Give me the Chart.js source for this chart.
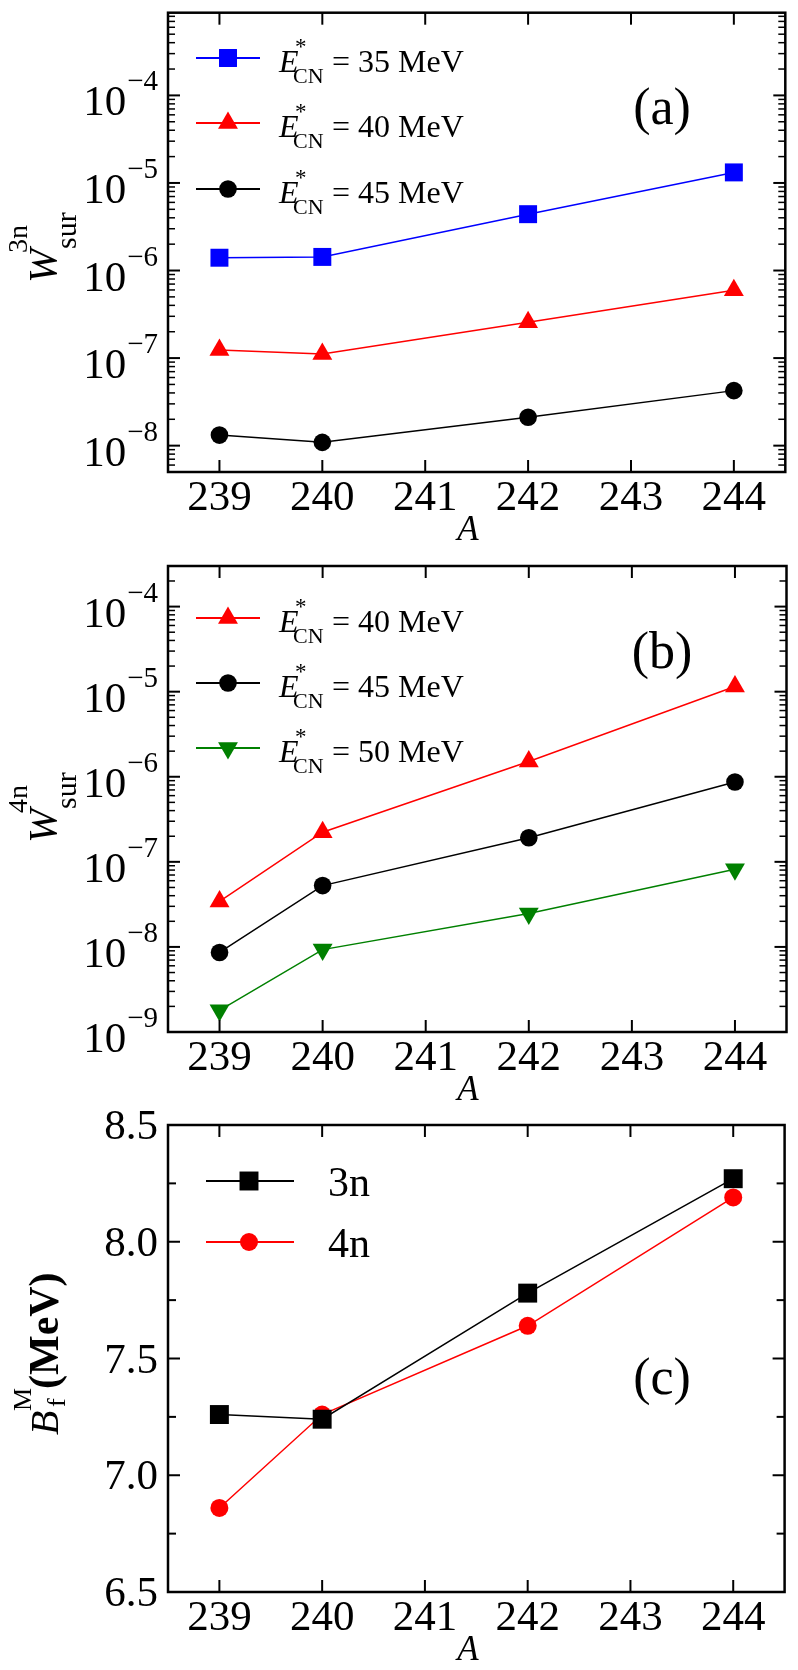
<!DOCTYPE html>
<html>
<head>
<meta charset="utf-8">
<script src="https://cdn.jsdelivr.net/npm/chart.js@4.4.1/dist/chart.umd.min.js"></script>
<style>
html,body{margin:0;padding:0;background:#fff;}
#wrap{position:relative;width:798px;height:1670px;overflow:hidden;background:#fff;}
canvas{position:absolute;left:0;}
</style>
</head>
<body>
<div id="wrap">
  <canvas id="cA" style="top:0px" width="798" height="548"></canvas>
  <canvas id="cB" style="top:548px" width="798" height="562"></canvas>
  <canvas id="cC" style="top:1110px" width="798" height="560"></canvas>
</div>
<script>
// ---------------- data ----------------
const X_TICKS = [239, 240, 241, 242, 243, 244];
const A_VALUES = [239, 240, 242, 244];

// panel (a): W_sur^3n
const W3N_35 = [1.40e-6, 1.43e-6, 4.40e-6, 1.32e-5];
const W3N_40 = [1.24e-7, 1.11e-7, 2.56e-7, 5.97e-7];
const W3N_45 = [1.32e-8, 1.09e-8, 2.11e-8, 4.25e-8];

// panel (b): W_sur^4n
const W4N_40 = [3.42e-8, 2.23e-7, 1.51e-6, 1.15e-5];
const W4N_45 = [8.6e-9, 5.26e-8, 1.92e-7, 8.69e-7];
const W4N_50 = [1.8e-9, 9.3e-9, 2.47e-8, 8.2e-8];

// panel (c): B_f^M (MeV)
const BF_3N = [7.26, 7.24, 7.78, 8.27];
const BF_4N = [6.86, 7.26, 7.64, 8.19];

// tick labels
const LOG_TICKS_A = [1e-8, 1e-7, 1e-6, 1e-5, 1e-4];
const LOG_EXP_A = ['\u22128', '\u22127', '\u22126', '\u22125', '\u22124'];
const LOG_TICKS_B = [1e-9, 1e-8, 1e-7, 1e-6, 1e-5, 1e-4];
const LOG_EXP_B = ['\u22129', '\u22128', '\u22127', '\u22126', '\u22125', '\u22124'];
const LIN_TICKS_C = [6.5, 7.0, 7.5, 8.0, 8.5];
const LIN_LABELS_C = ['6.5', '7.0', '7.5', '8.0', '8.5'];

// legend labels
const LEG_A = ['35', '40', '45'];
const LEG_B = ['40', '45', '50'];
const LEG_C = ['3n', '4n'];

// ---------------- helpers ----------------
const SERIF = '"Liberation Serif", "Times New Roman", serif';
const BLUE = '#0000ff', RED = '#ff0000', BLACK = '#000000', GREEN = '#008000';

function ds(label, values, color, style, radius, rotation) {
  return {
    label: label,
    data: A_VALUES.map((a, i) => ({x: a, y: values[i]})),
    borderColor: color,
    backgroundColor: color,
    borderWidth: 1.5,
    pointStyle: style,
    pointRadius: radius,
    pointHoverRadius: radius,
    pointRotation: rotation || 0,
    pointBorderWidth: 0,
    pointBackgroundColor: color,
    tension: 0,
    fill: false,
    clip: false
  };
}

function marker(ctx, style, r, rot, x, y, color) {
  ctx.save();
  ctx.fillStyle = color;
  ctx.beginPath();
  if (style === 'circle') {
    ctx.arc(x, y, r, 0, Math.PI * 2);
  } else if (style === 'rect') {
    const s = Math.SQRT1_2 * r;
    ctx.rect(x - s, y - s, 2 * s, 2 * s);
  } else {
    const base = (rot || 0) * Math.PI / 180;
    for (let i = 0; i < 3; i++) {
      const ang = base + i * 2 * Math.PI / 3;
      const px = x + Math.sin(ang) * r, py = y - Math.cos(ang) * r;
      if (i === 0) ctx.moveTo(px, py); else ctx.lineTo(px, py);
    }
    ctx.closePath();
  }
  ctx.fill();
  ctx.restore();
}

function seg(ctx, x0, y0, x1, y1) {
  ctx.beginPath(); ctx.moveTo(x0, y0); ctx.lineTo(x1, y1); ctx.stroke();
}

function rotText(ctx, x, y, parts) {
  ctx.save();
  ctx.translate(x, y);
  ctx.rotate(-Math.PI / 2);
  ctx.textAlign = 'left';
  ctx.textBaseline = 'alphabetic';
  ctx.fillStyle = '#000';
  parts.forEach(p => { ctx.font = p.font; ctx.fillText(p.t, p.u, p.v); });
  ctx.restore();
}

function drawDeco(chart, cfg) {
  const ctx = chart.ctx, a = chart.chartArea;
  const xs = chart.scales.x, ys = chart.scales.y;
  ctx.save();
  ctx.strokeStyle = '#000';
  ctx.fillStyle = '#000';

  ctx.lineWidth = 2;
  X_TICKS.forEach(v => {
    const x = xs.getPixelForValue(v);
    seg(ctx, x, a.bottom, x, a.bottom - 12);
    seg(ctx, x, a.top, x, a.top + 12);
  });

  if (cfg.log) {
    const kmin = Math.floor(Math.log10(ys.min)), kmax = Math.ceil(Math.log10(ys.max));
    for (let k = kmin; k <= kmax; k++) {
      for (let m = 1; m <= 9; m++) {
        const v = m * Math.pow(10, k);
        if (v < ys.min * 0.999 || v > ys.max * 1.001) continue;
        const y = ys.getPixelForValue(v);
        const len = (m === 1) ? 12 : 7;
        ctx.lineWidth = (m === 1) ? 2 : 1.5;
        seg(ctx, a.left, y, a.left + len, y);
        seg(ctx, a.right, y, a.right - len, y);
      }
    }
  } else {
    const t = cfg.yTicks;
    const all = [];
    for (let i = 0; i < t.length; i++) {
      all.push([t[i], 12]);
      if (i < t.length - 1) all.push([(t[i] + t[i + 1]) / 2, 8]);
    }
    all.forEach(([v, len]) => {
      const y = ys.getPixelForValue(v);
      ctx.lineWidth = 2;
      seg(ctx, a.left, y, a.left + len, y);
      seg(ctx, a.right, y, a.right - len, y);
    });
  }

  ctx.lineWidth = 2.5;
  ctx.strokeRect(a.left, a.top, a.right - a.left, a.bottom - a.top);

  ctx.font = '43px ' + SERIF;
  ctx.textAlign = 'center';
  ctx.textBaseline = 'alphabetic';
  X_TICKS.forEach(v => ctx.fillText(String(v), xs.getPixelForValue(v), a.bottom + 38));

  ctx.font = 'italic 35px ' + SERIF;
  ctx.fillText('A', 468, a.bottom + 68);

  const rEdge = 158;
  if (cfg.log) {
    cfg.yTicks.forEach((v, i) => {
      const y = ys.getPixelForValue(v);
      ctx.font = '29px ' + SERIF;
      ctx.textAlign = 'right';
      const sw = ctx.measureText(cfg.yExp[i]).width;
      ctx.fillText(cfg.yExp[i], rEdge, y - 5);
      ctx.font = '43px ' + SERIF;
      ctx.fillText('10', rEdge - sw - 1, y + 20);
    });
  } else {
    ctx.font = '43px ' + SERIF;
    ctx.textAlign = 'right';
    cfg.yTicks.forEach((v, i) => ctx.fillText(cfg.yLabels[i], rEdge, ys.getPixelForValue(v) + 14));
  }

  ctx.font = '52px ' + SERIF;
  ctx.textAlign = 'center';
  ctx.fillText(cfg.panel, 662, cfg.panelY);

  cfg.yTitle(ctx);
  cfg.legend(ctx);
  ctx.restore();
}

function legendE(ctx, yc, color, style, r, rot, energy) {
  ctx.save();
  ctx.strokeStyle = color;
  ctx.lineWidth = 2;
  seg(ctx, 196, yc, 260, yc);
  marker(ctx, style, r, rot, 228, yc, color);
  ctx.fillStyle = '#000';
  ctx.textAlign = 'left';
  ctx.textBaseline = 'alphabetic';
  ctx.font = 'italic 32px ' + SERIF;
  ctx.fillText('E', 279, yc + 14);
  ctx.font = '23px ' + SERIF;
  ctx.fillText('*', 295, yc - 4);
  ctx.font = '22px ' + SERIF;
  ctx.fillText('CN', 293, yc + 25);
  ctx.font = '32px ' + SERIF;
  ctx.fillText('= ' + energy + ' MeV', 332, yc + 14);
  ctx.restore();
}

function legendC(ctx, yc, color, style, r, label) {
  ctx.save();
  ctx.strokeStyle = color;
  ctx.lineWidth = 2;
  seg(ctx, 206, yc, 294, yc);
  marker(ctx, style, r, 0, 249, yc, color);
  ctx.fillStyle = '#000';
  ctx.textAlign = 'left';
  ctx.textBaseline = 'alphabetic';
  ctx.font = '42px ' + SERIF;
  ctx.fillText(label, 328, yc + 15);
  ctx.restore();
}

function wTitle(sup) {
  return (ctx, y0) => rotText(ctx, 56, y0, [
    {t: 'W', font: 'italic 41px ' + SERIF, u: 0, v: 0},
    {t: sup, font: '28px ' + SERIF, u: 30, v: -29},
    {t: 'sur', font: '30px ' + SERIF, u: 34, v: 20}
  ]);
}

function makeChart(id, datasets, yScale, pad, cfg) {
  const el = document.getElementById(id);
  return new Chart(el.getContext('2d'), {
    type: 'line',
    data: {datasets: datasets},
    options: {
      responsive: false,
      animation: false,
      events: [],
      layout: {padding: pad},
      plugins: {legend: {display: false}, tooltip: {enabled: false}},
      scales: {
        x: {type: 'linear', min: 238.5, max: 244.5, display: false},
        y: Object.assign({display: false}, yScale)
      }
    },
    plugins: [{id: 'deco', afterDraw: (c) => drawDeco(c, cfg)}]
  });
}

function build() {
  makeChart('cA', [
    ds('35', W3N_35, BLUE, 'rect', 12.7),
    ds('40', W3N_40, RED, 'triangle', 11.5),
    ds('45', W3N_45, BLACK, 'circle', 8.8)
  ], {type: 'logarithmic', min: 5e-9, max: 8.8e-4},
  {left: 168, right: 9, top: 7, bottom: 548 - 472},
  {
    log: true, yTicks: LOG_TICKS_A, yExp: LOG_EXP_A,
    panel: '(a)', panelY: 124,
    yTitle: (ctx) => wTitle('3n')(ctx, 283),
    legend: (ctx) => {
      legendE(ctx, 58, BLUE, 'rect', 12.7, 0, LEG_A[0]);
      legendE(ctx, 123, RED, 'triangle', 11.5, 0, LEG_A[1]);
      legendE(ctx, 189, BLACK, 'circle', 8.8, 0, LEG_A[2]);
    }
  });

  makeChart('cB', [
    ds('40', W4N_40, RED, 'triangle', 11.5),
    ds('45', W4N_45, BLACK, 'circle', 8.8),
    ds('50', W4N_50, GREEN, 'triangle', 11.5, 180)
  ], {type: 'logarithmic', min: 1e-9, max: 3e-4},
  {left: 168, right: 9, top: 18, bottom: 562 - 484},
  {
    log: true, yTicks: LOG_TICKS_B, yExp: LOG_EXP_B,
    panel: '(b)', panelY: 120,
    yTitle: (ctx) => wTitle('4n')(ctx, 295),
    legend: (ctx) => {
      legendE(ctx, 70, RED, 'triangle', 11.5, 0, LEG_B[0]);
      legendE(ctx, 135, BLACK, 'circle', 8.8, 0, LEG_B[1]);
      legendE(ctx, 200, GREEN, 'triangle', 11.5, 180, LEG_B[2]);
    }
  });

  makeChart('cC', [
    ds('3n', BF_3N, BLACK, 'rect', 13.4),
    ds('4n', BF_4N, RED, 'circle', 9)
  ], {type: 'linear', min: 6.5, max: 8.5},
  {left: 168, right: 9, top: 15, bottom: 560 - 482},
  {
    log: false, yTicks: LIN_TICKS_C, yLabels: LIN_LABELS_C,
    panel: '(c)', panelY: 284,
    yTitle: (ctx) => rotText(ctx, 58, 325, [
      {t: 'B', font: 'italic 40px ' + SERIF, u: 0, v: 0},
      {t: 'M', font: '26px ' + SERIF, u: 24, v: -27},
      {t: 'f', font: '26px ' + SERIF, u: 28, v: 7},
      {t: '(MeV)', font: 'bold 42px ' + SERIF, u: 46, v: 0}
    ]),
    legend: (ctx) => {
      legendC(ctx, 71, BLACK, 'rect', 13.4, LEG_C[0]);
      legendC(ctx, 132, RED, 'circle', 9, LEG_C[1]);
    }
  });
}

const fontLoads = [
  '43px "Liberation Serif"', 'italic 34px "Liberation Serif"', 'bold 39px "Liberation Serif"'
].map(f => (document.fonts && document.fonts.load) ? document.fonts.load(f) : Promise.resolve());
Promise.all(fontLoads).then(build, build);
</script>
</body>
</html>
